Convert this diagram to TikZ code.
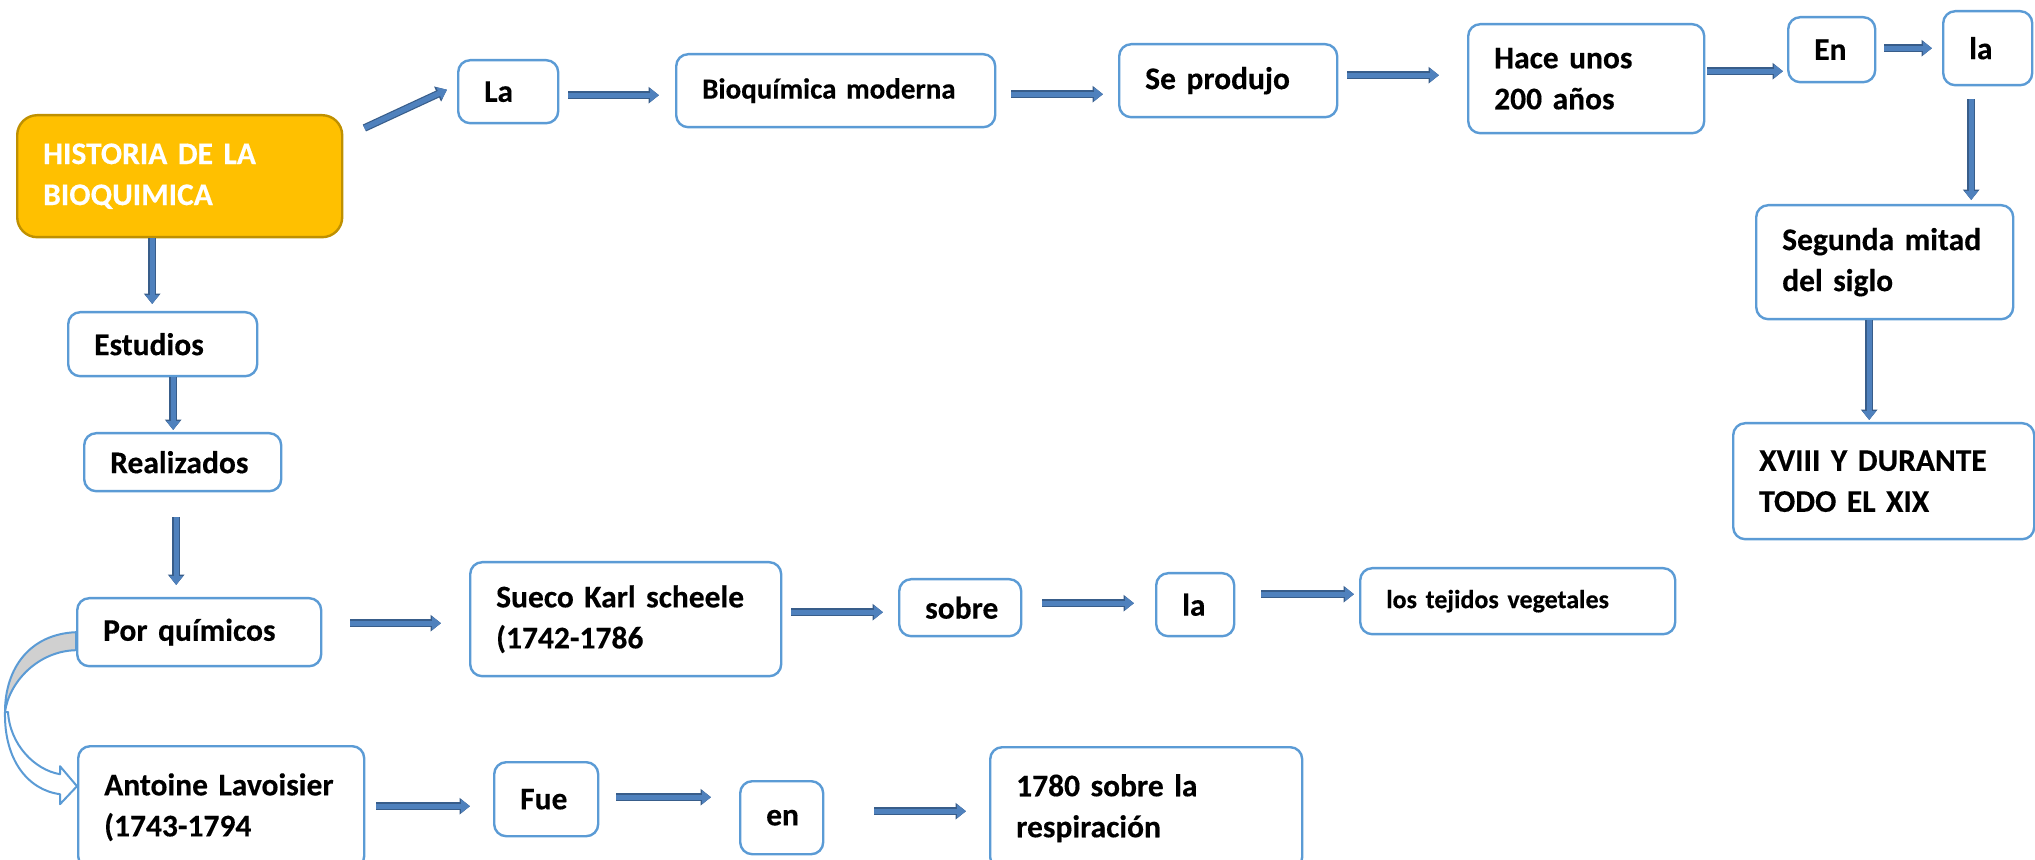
\documentclass[tikz,border=0pt]{standalone}
\usepackage{fontspec}
\setmainfont{Carlito}[BoldFeatures={FakeBold=0.3}]
\usetikzlibrary{arrows.meta,calc}

\definecolor{boxblue}{HTML}{5B9BD5}
\definecolor{titlefill}{HTML}{FFC000}
\definecolor{titleedge}{HTML}{BF9000}
\definecolor{arrowfill}{HTML}{4F81BD}
\definecolor{arrowedge}{HTML}{385D8A}
\definecolor{backgray}{HTML}{D0D0D0}

\begin{document}
\begin{tikzpicture}[
    x=0.5pt,y=0.5pt,
    every node/.style={font=\bfseries\fontsize{15.75}{20.5}\selectfont},
    box/.style={rectangle,rounded corners=6pt,draw=boxblue,line width=1.2pt,fill=white,
        anchor=north west,align=left,inner xsep=13pt,inner ysep=0pt},
    title/.style={box,draw=titleedge,fill=titlefill,text=white,rounded corners=10pt},
    blockarrow/.style={draw=arrowfill,line width=2.6pt,
        -{Triangle[length=4.4pt,width=6.4pt]},
        preaction={draw=arrowedge,line width=3.8pt,-{Triangle[length=5.2pt,width=8pt]}}},
    ribbon/.style={draw=boxblue,line width=1pt,line join=round}
]
\useasboundingbox (0,0) rectangle (2035,-860);

% title and left column
\node[title,minimum height=61pt,text width=136.5pt] (hist) at (16,-114) {HISTORIA DE LA\\BIOQUIMICA};
\node[box,minimum height=32pt,text width=68.5pt]   (est)   at (67,-311)  {Estudios};
\node[box,minimum height=29pt,text width=72.5pt]   (real)  at (83,-432)  {Realizados};
\node[box,minimum height=34pt,text width=96pt]     (por)   at (76,-597)  {Por~químicos};
\node[box,minimum height=61pt,text width=117pt]    (ant)   at (77,-745)  {Antoine~Lavoisier\\(1743-1794};

% top row
\node[box,minimum height=31.5pt,text width=24pt]   (la1)   at (457,-59)   {La};
\node[box,minimum height=36.5pt,text width=133.5pt,font=\bfseries\fontsize{14.5}{18}\selectfont]
                                                   (bioq)  at (675,-53)   {Bioquímica moderna};
\node[box,minimum height=36.5pt,text width=83pt]   (sepro) at (1118,-43)  {Se~produjo};
\node[box,minimum height=54.5pt,text width=92pt]   (hace)  at (1467,-23)  {Hace unos\\200 años};
\node[box,minimum height=32.5pt,text width=17.5pt] (en1)   at (1787,-16)  {En};
\node[box,minimum height=37pt,text width=18.5pt]   (la2)   at (1942,-10)  {la};
\node[box,minimum height=57pt,text width=102.5pt]  (seg)   at (1755,-204) {Segunda~mitad\\del siglo};
\node[box,minimum height=58pt,text width=124.5pt]  (xviii) at (1732,-422) {XVIII Y DURANTE\\TODO EL XIX};

% middle row
\node[box,minimum height=57pt,text width=129.5pt]  (sueco) at (469,-561)  {Sueco~Karl~scheele\\(1742-1786};
\node[box,minimum height=28.5pt,text width=35pt]   (sobre) at (898,-578)  {sobre};
\node[box,minimum height=31.5pt,text width=13pt]   (la3)   at (1155,-572) {la};
\node[box,minimum height=33pt,text width=131.5pt,font=\bfseries\fontsize{13}{16}\selectfont]
                                                   (tej)   at (1359,-567) {los tejidos vegetales};

% bottom row
\node[box,minimum height=37pt,text width=26pt]     (fue)   at (493,-761)  {Fue};
\node[box,minimum height=36.5pt,text width=15.5pt] (en2)   at (739,-780)  {en};
\node[box,minimum height=61pt,text width=130pt]    (resp)  at (989,-746)  {1780 sobre la\\respiración};

% block arrows
\draw[blockarrow] ([shift={(10.5pt,-7pt)}]hist.north east) -- ([shift={(-5pt,1pt)}]la1.west);
\draw[blockarrow,shorten <=4.5pt,shorten >=8pt] ([yshift=-1.75pt]la1.east) -- ([yshift=-1.75pt]la1.east -| bioq.west);
\draw[blockarrow,shorten <=7.5pt,shorten >=7.5pt] ([yshift=-1.75pt]bioq.east) -- ([yshift=-1.75pt]bioq.east -| sepro.west);
\draw[blockarrow,shorten <=4.5pt,shorten >=14pt] ([yshift=2.75pt]sepro.east) -- ([yshift=2.75pt]sepro.east -| hace.west);
\draw[blockarrow,shorten <=1pt,shorten >=2pt] ([yshift=3.75pt]hace.east) -- ([yshift=3.75pt]hace.east -| en1.west);
\draw[blockarrow,shorten <=4pt,shorten >=5pt] ([yshift=0.75pt]en1.east) -- ([yshift=0.75pt]en1.east -| la2.west);
\draw[blockarrow,shorten <=6.5pt,shorten >=2pt] ([xshift=-8.25pt]la2.south) -- ([xshift=-8.25pt]la2.south |- seg.north);
\draw[blockarrow,shorten >=1pt] ([xshift=-7.75pt]seg.south) -- ([xshift=-7.75pt]seg.south |- xviii.north);

\draw[blockarrow,shorten >=3.5pt] ([xshift=-13.75pt]hist.south) -- ([xshift=-13.75pt]hist.south |- est.north);
\draw[blockarrow,shorten >=1pt] ([xshift=5.25pt]est.south) -- ([xshift=5.25pt]est.south |- real.north);
\draw[blockarrow,shorten <=12.5pt,shorten >=6pt] ([xshift=-3.25pt]real.south) -- ([xshift=-3.25pt]real.south |- por.north);

\draw[blockarrow,shorten <=14pt,shorten >=14pt] ([yshift=4.5pt]por.east) -- ([yshift=4.5pt]por.east -| sueco.west);
\draw[blockarrow,shorten <=4.5pt,shorten >=7.5pt] ([yshift=3.5pt]sueco.east) -- ([yshift=3.5pt]sueco.east -| sobre.west);
\draw[blockarrow,shorten <=10pt,shorten >=10.5pt] ([yshift=2.25pt]sobre.east) -- ([yshift=2.25pt]sobre.east -| la3.west);
\draw[blockarrow,shorten <=13pt,shorten >=2.5pt] ([yshift=5.25pt]la3.east) -- ([yshift=5.25pt]la3.east -| tej.west);

\draw[blockarrow,shorten <=5.5pt,shorten >=11.5pt] ([yshift=0.5pt]ant.east) -- ([yshift=0.5pt]ant.east -| fue.west);
\draw[blockarrow,shorten <=8.5pt,shorten >=14pt] ([yshift=1pt]fue.east) -- ([yshift=1pt]fue.east -| en2.west);
\draw[blockarrow,shorten <=25pt,shorten >=11.5pt] ([yshift=3.25pt]en2.east) -- ([yshift=3.25pt]en2.east -| resp.west);

% curved arrow from Por quimicos to Antoine Lavoisier
\coordinate (turn) at (5,-712);
\draw[ribbon,fill=backgray] (por.west) .. controls (30,-634) and (5,-668) .. (turn)
    .. controls (9,-682) and (38,-651) .. ($(por.west)+(0,-18)$) -- cycle;
\draw[ribbon,fill=white] (turn) .. controls (4,-760) and (28,-790) .. ($(ant.west)+(-17,13)$)
    -- ($(ant.west)+(-17,3)$) -- ($(ant.west)+(0,21)$) -- ($(ant.west)+(-17,41)$)
    -- ($(ant.west)+(-17,33)$) .. controls (35,-770) and (10,-745) .. ($(turn)+(3,0)$) -- cycle;

\end{tikzpicture}
\end{document}
